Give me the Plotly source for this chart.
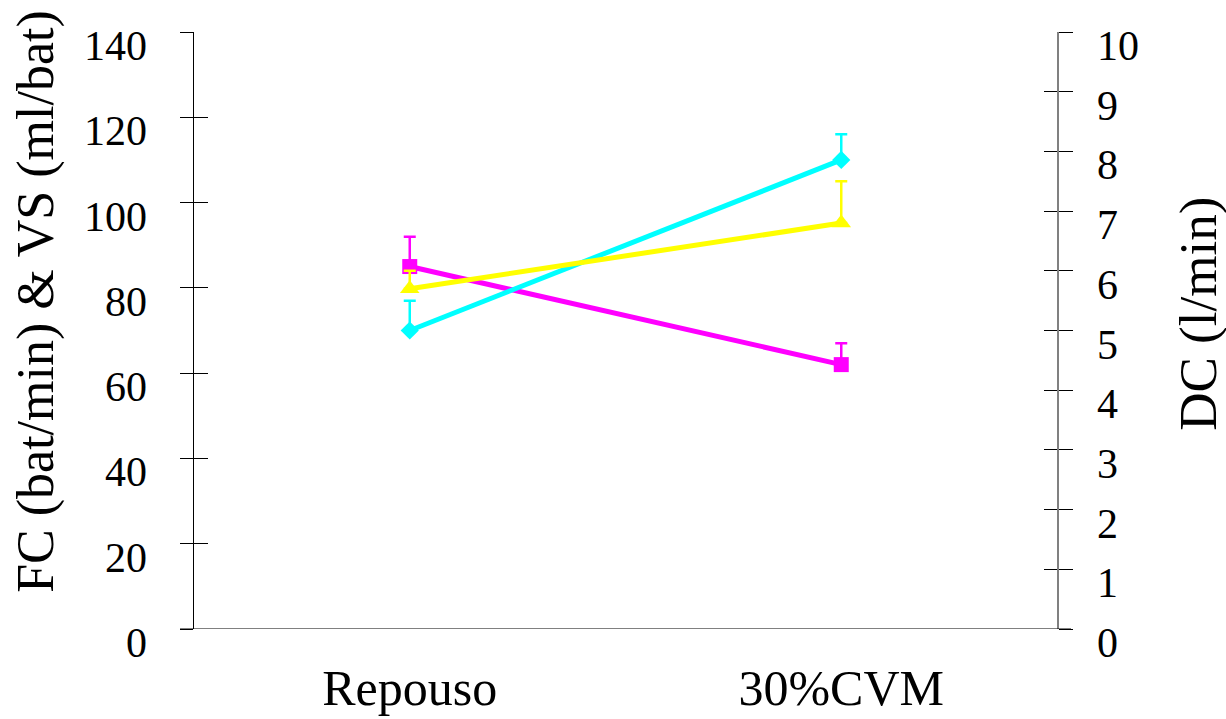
import plotly.graph_objects as go

# Data
categories = ["Repouso", "30%CVM"]
fc = [70, 110]            # FC (bat/min)
fc_err = [7, 6]
vs = [85, 62]             # VS (ml/bat)
vs_err = [7, 5]
dc = [5.7, 6.8]           # DC (l/min)
dc_err = [0.3, 0.7]

left_ticks = [0, 20, 40, 60, 80, 100, 120, 140]
right_ticks = [0, 1, 2, 3, 4, 5, 6, 7, 8, 9, 10]

FONT = "Times New Roman, Liberation Serif, DejaVu Serif, serif"
CYAN = "#00FFFF"
MAGENTA = "#FF00FF"
YELLOW = "#FFFF00"


def err(vals, color):
    return dict(type="data", symmetric=False, array=vals, arrayminus=[0] * len(vals),
                color=color, thickness=2.5, width=6)


fig = go.Figure()

fig.add_trace(go.Scatter(x=categories, y=vs, mode="lines+markers", yaxis="y",
                         line=dict(color=MAGENTA, width=5),
                         marker=dict(symbol="square", size=15, color=MAGENTA),
                         error_y=err(vs_err, MAGENTA), showlegend=False))
fig.add_trace(go.Scatter(x=categories, y=fc, mode="lines+markers", yaxis="y",
                         line=dict(color=CYAN, width=5),
                         marker=dict(symbol="diamond", size=14, color=CYAN),
                         error_y=err(fc_err, CYAN), showlegend=False))
fig.add_trace(go.Scatter(x=categories, y=dc, mode="lines+markers", yaxis="y2",
                         line=dict(color=YELLOW, width=5),
                         marker=dict(symbol="triangle-up", size=17, color=YELLOW),
                         error_y=err(dc_err, YELLOW), showlegend=False))

# invisible traces so the inner-tick overlay axes get drawn
fig.add_trace(go.Scatter(x=categories, y=fc, yaxis="y3", mode="markers",
                         marker=dict(opacity=0), hoverinfo="skip", showlegend=False))
fig.add_trace(go.Scatter(x=categories, y=dc, yaxis="y4", mode="markers",
                         marker=dict(opacity=0), hoverinfo="skip", showlegend=False))

common = dict(showgrid=False, zeroline=False, tickcolor="black", tickwidth=1,
              automargin=False)

fig.update_layout(
    width=1226, height=719,
    margin=dict(l=194, r=169, t=32, b=90, autoexpand=False),
    paper_bgcolor="white", plot_bgcolor="white",
    font=dict(family=FONT, color="black"),
    xaxis=dict(type="category", range=[-0.5, 1.5], showline=False, showgrid=False,
               zeroline=False, ticks="", automargin=False,
               tickfont=dict(family=FONT, size=50, color="black"),
               ticklabelstandoff=25),
    yaxis=dict(range=[0, 140], tickvals=left_ticks, ticks="outside", ticklen=13,
               showline=True, linecolor="black", linewidth=1, showticklabels=False, **common),
    yaxis3=dict(range=[0, 140], tickvals=left_ticks, ticks="inside", ticklen=14,
                overlaying="y", side="left", showline=False, showticklabels=False, **common),
    yaxis2=dict(range=[0, 10], tickvals=right_ticks, ticks="outside", ticklen=14,
                overlaying="y", side="right", anchor="x", showline=True,
                linecolor="#808080", linewidth=1.5, showticklabels=False, **common),
    yaxis4=dict(range=[0, 10], tickvals=right_ticks, ticks="inside", ticklen=13,
                overlaying="y", side="right", anchor="x", showline=False,
                showticklabels=False, **common),
)

annotations = []
for v in left_ticks:
    annotations.append(dict(x=0, xref="paper", y=v, yref="y", text=str(v),
                            xanchor="right", yanchor="middle", xshift=-45, yshift=-14,
                            showarrow=False, font=dict(family=FONT, size=42, color="black")))
for v in right_ticks:
    annotations.append(dict(x=1, xref="paper", y=v, yref="y2", text=str(v),
                            xanchor="left", yanchor="middle", xshift=38, yshift=-14,
                            showarrow=False, font=dict(family=FONT, size=42, color="black")))

annotations.append(dict(x=0, xref="paper", y=0.548, yref="paper",
                        text="FC (bat/min) & VS (ml/bat)", textangle=-90,
                        xanchor="center", yanchor="middle", xshift=-158,
                        showarrow=False, font=dict(family=FONT, size=52, color="black")))
annotations.append(dict(x=1, xref="paper", y=0.528, yref="paper",
                        text="DC (l/min)", textangle=-90,
                        xanchor="center", yanchor="middle", xshift=142,
                        showarrow=False, font=dict(family=FONT, size=53, color="black")))
fig.update_layout(annotations=annotations)

# baseline spanning both axes' tick marks
fig.add_shape(type="line", xref="paper", yref="y", x0=-0.0162, x1=1.0162, y0=0, y1=0,
              line=dict(color="black", width=1), layer="above")

fig.write_html("out.html")
